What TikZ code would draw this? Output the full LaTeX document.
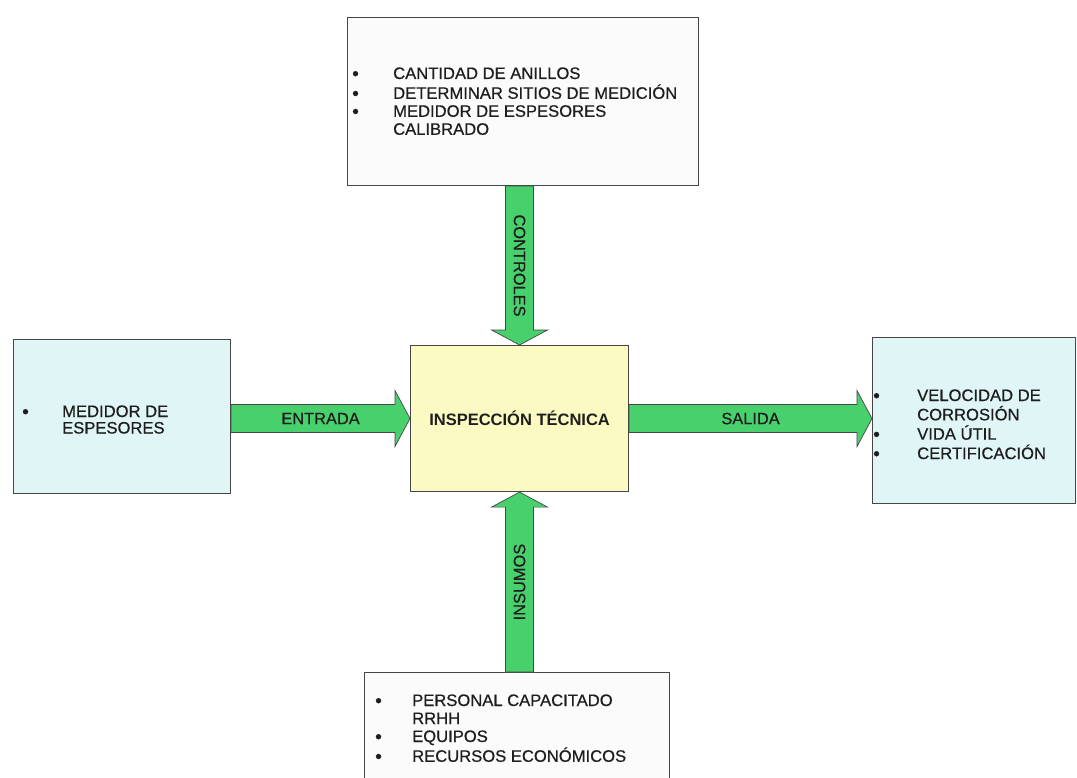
\documentclass[tikz,border=0pt]{standalone}
\usepackage{fontspec}
\setmainfont{Liberation Sans}
% slightly heavier regular weight for the box and arrow texts
\newfontfamily\heavysans{Liberation Sans}[FakeBold=0.6]
\usetikzlibrary{calc}

\definecolor{arrowgreen}{RGB}{72,208,108}
\definecolor{boxcyan}{RGB}{224,245,245}
\definecolor{boxyellow}{RGB}{250,250,194}
\definecolor{boxwhite}{RGB}{251,251,251}
\definecolor{edgegray}{RGB}{70,70,70}
\definecolor{inkgray}{RGB}{30,30,30}

% bullet list: first column holds the bullet, second the text
\newcommand\itemrows[2]{\begin{tabular}[t]{@{}p{#1}@{}l@{}}#2\end{tabular}}
\newcommand\dotmark{\smash{\raisebox{-1pt}{\fontsize{19}{19}\selectfont\textbullet}}}

\begin{document}
\begin{tikzpicture}[x=1pt,y=-1pt,
  box/.style={draw=edgegray, line width=1.1pt, inner sep=0pt, anchor=north west},
  listtext/.style={inner sep=0pt, anchor=base west, text=inkgray},
  arrowlabel/.style={inner sep=0pt, text=inkgray, font=\heavysans\fontsize{16.4}{16.4}\selectfont},
  fatarrow/.style={draw=edgegray, line width=0.7pt, fill=arrowgreen, line join=miter,
    to path={let \p1=(\tikztostart), \p2=(\tikztotarget),
      \n1={atan2(\y2-\y1,\x2-\x1)} in
      -- ($(\p1)+(\n1+90:14pt)$)
      -- ($(\p2)+(\n1+180:15pt)+(\n1+90:14pt)$)
      -- ($(\p2)+(\n1+180:15pt)+(\n1+90:28pt)$)
      -- (\p2)
      -- ($(\p2)+(\n1+180:15pt)+(\n1-90:28pt)$)
      -- ($(\p2)+(\n1+180:15pt)+(\n1-90:14pt)$)
      -- ($(\p1)+(\n1-90:14pt)$)
      -- cycle}}
]
\useasboundingbox (0,0) rectangle (1077,778);
\clip (0,0) rectangle (1077,778);
\fill[white] (0,0) rectangle (1077,778);

% boxes
\node[box, fill=boxwhite, minimum width=351pt, minimum height=168pt] (tb) at (347,17) {};
\node[box, fill=boxcyan, minimum width=217pt, minimum height=154pt] (lb) at (13,339) {};
\node[box, fill=boxyellow, minimum width=218pt, minimum height=146pt] (cb) at (410,345) {};
\node[box, fill=boxcyan, minimum width=203pt, minimum height=166pt] (rb) at (872,337) {};
\node[box, fill=boxwhite, minimum width=305pt, minimum height=130pt] (bb) at (364,672) {};

% box contents
\node[listtext, font=\heavysans\fontsize{16.6}{18}\selectfont] (tlist) at (352,79)
  {\itemrows{41pt}{\dotmark & CANTIDAD DE ANILLOS\\
                   \dotmark & DETERMINAR SITIOS DE MEDICIÓN\\
                   \dotmark & MEDIDOR DE ESPESORES\\
                            & CALIBRADO}};
\node[listtext, font=\heavysans\fontsize{16.6}{16.5}\selectfont] (llist) at (22,417)
  {\itemrows{40pt}{\dotmark & MEDIDOR DE\\
                            & ESPESORES}};
\node[listtext, font=\heavysans\fontsize{16.6}{16.5}\selectfont] (rlist) at (873,401)
  {\itemrows{44pt}{\dotmark & VELOCIDAD DE\\
                            & CORROSIÓN\\
                   \dotmark & VIDA ÚTIL\\
                   \dotmark & CERTIFICACIÓN}};
\node[listtext, font=\heavysans\fontsize{16.6}{18}\selectfont] (blist) at (375,706)
  {\itemrows{37pt}{\dotmark & PERSONAL CAPACITADO\\
                            & RRHH\\
                   \dotmark & EQUIPOS\\
                   \dotmark & RECURSOS ECONÓMICOS}};
\node[inner sep=0pt, text=inkgray, font=\fontsize{16.5}{16.5}\selectfont\bfseries] (ctext) at (cb.center) {INSPECCIÓN TÉCNICA};

% arrows
\draw[fatarrow] (cb.north |- tb.south) to (cb.north);
\draw[fatarrow] (lb.east |- cb.west) to (cb.west);
\draw[fatarrow] (cb.east) to (rb.west |- cb.east);
\draw[fatarrow] (cb.south |- bb.north) to (cb.south);

% arrow labels
\node[arrowlabel, rotate=-90] (lctrl) at ($(cb.north |- tb.south)!0.5!(cb.north)$) {CONTROLES};
\node[arrowlabel] (lin) at ($(lb.east |- cb.west)!0.5!(cb.west)$) {ENTRADA};
\node[arrowlabel] (lout) at ($(cb.east)!0.5!(rb.west |- cb.east)$) {SALIDA};
\node[arrowlabel, rotate=90] (lsup) at ($(cb.south |- bb.north)!0.5!(cb.south)$) {INSUMOS};
\end{tikzpicture}
\end{document}
